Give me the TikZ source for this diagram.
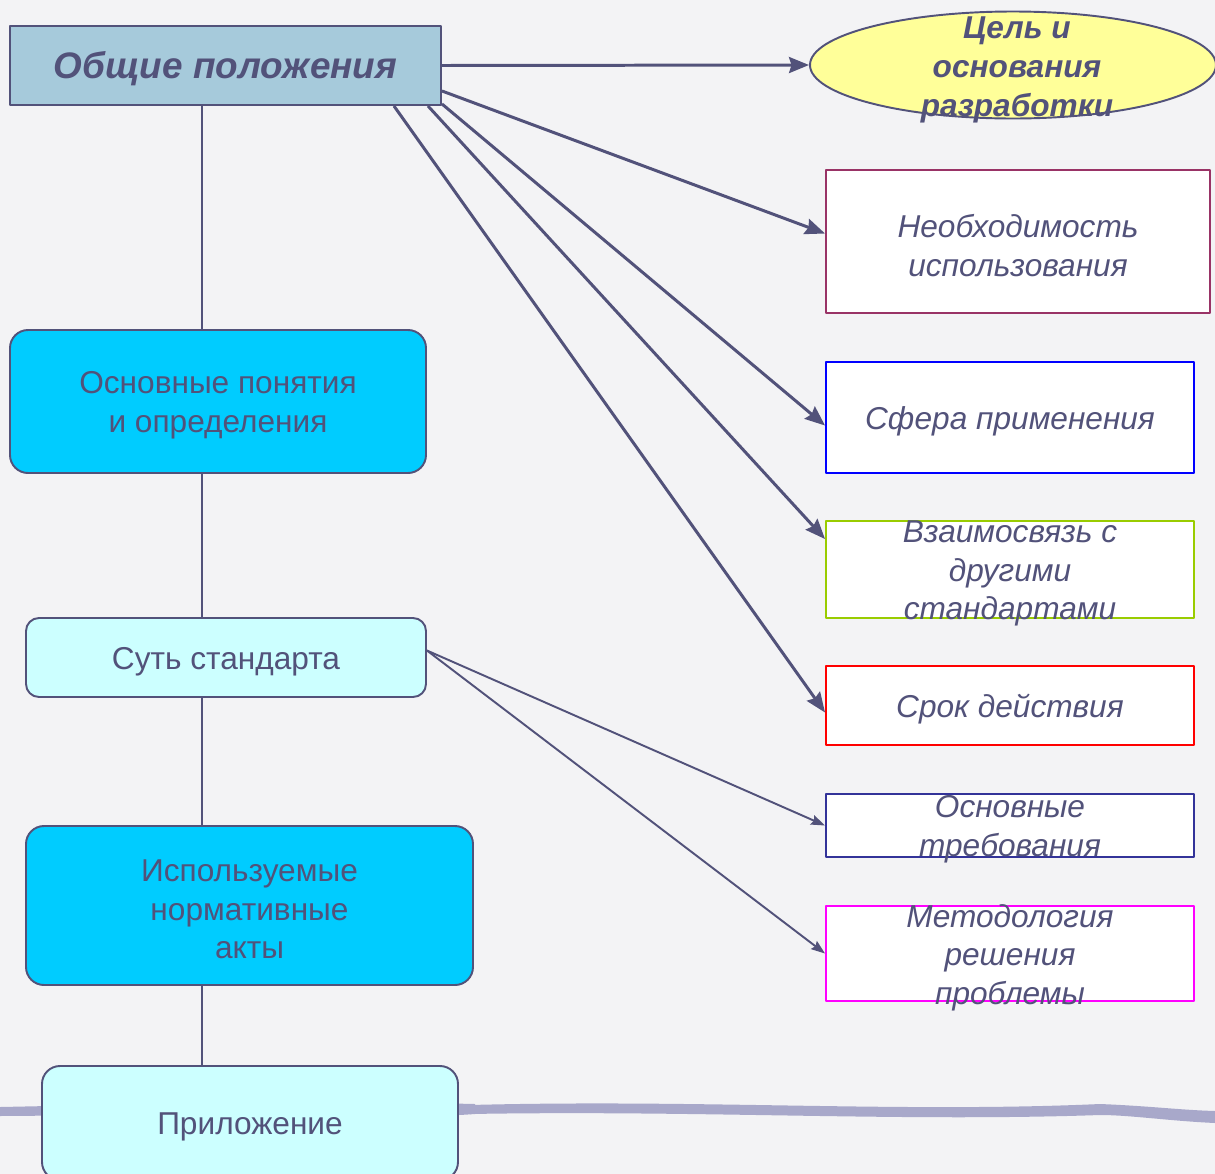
\documentclass[tikz,border=0pt]{standalone}
\usepackage{fontspec}
\setmainfont{Liberation Sans}
\usetikzlibrary{shapes.geometric,arrows.meta,calc}
\definecolor{ink}{RGB}{82,82,122}
\definecolor{bgc}{RGB}{243,243,245}
\definecolor{hdrc}{RGB}{166,202,219}
\definecolor{goalc}{RGB}{255,255,153}
\definecolor{cyanc}{RGB}{0,204,255}
\definecolor{palec}{RGB}{204,255,255}
\definecolor{needc}{RGB}{153,51,102}
\definecolor{scopec}{RGB}{0,0,255}
\definecolor{greenc}{RGB}{153,204,0}
\definecolor{termc}{RGB}{255,0,0}
\definecolor{reqc}{RGB}{51,51,153}
\definecolor{methc}{RGB}{255,0,255}
\definecolor{bandc}{RGB}{168,168,202}
\begin{document}
\begin{tikzpicture}[x=0.02cm,y=-0.02cm,line join=round,
	every node/.style={text=ink,align=center,inner sep=0pt},
	lbl/.style={font=\fontsize{18}{22}\selectfont,yshift=-0.08cm},
	itl/.style={font=\fontsize{18}{22}\selectfont\itshape,yshift=-0.08cm},
	bld/.style={font=\fontsize{18}{22}\selectfont\bfseries\itshape},
	side/.style={draw=#1,fill=white,line width=1.1pt},
	blk/.style={draw=ink,fill=#1,line width=1.1pt,rounded corners=0.36cm},
	conn/.style={draw=ink,line width=1.1pt},
	arr/.style={draw=ink,line width=1.7pt,-{Stealth[length=0.4cm,width=0.32cm,inset=0.05cm]}},
	tarr/.style={draw=ink,line width=1.1pt,-{Stealth[length=0.28cm,width=0.2cm,inset=0.04cm]}}]
	\useasboundingbox (0,0) rectangle (1215,1174);
	\clip (0,0) rectangle (1215,1174);
	\fill[bgc] (0,0) rectangle (1215,1174);
	% ribbon at the bottom
	\fill[bandc] (0,1107) .. controls (150,1104) and (300,1100) .. (475,1104)
		-- (475,1114) .. controls (380,1121) and (200,1114) .. (0,1116) -- cycle;
	\fill[bandc] (470,1105) .. controls (700,1099) and (900,1113) .. (1100,1104)
		.. controls (1150,1106) and (1180,1110) .. (1215,1111) -- (1215,1123)
		.. controls (1170,1121) and (1130,1115) .. (1100,1115)
		.. controls (900,1122) and (700,1110) .. (470,1114) -- cycle;
	% left column
	\node[draw=ink,fill=hdrc,line width=1.1pt,minimum width=431*0.02cm,minimum height=79*0.02cm] (gen) at (225.5,65.5) {};
	\node[font=\fontsize{21}{25}\selectfont\bfseries\itshape,yshift=-0.06cm] (gen-t) at (gen) {Общие положения};
	\node[blk=cyanc,minimum width=416*0.02cm,minimum height=143*0.02cm] (conc) at (218,401.5) {};
	\node[lbl] (conc-t) at (conc) {Основные понятия\\и определения};
	\node[blk=palec,minimum width=400*0.02cm,minimum height=79*0.02cm,rounded corners=0.26cm] (sut) at (226,657.5) {};
	\node[lbl] (sut-t) at (sut) {Суть стандарта};
	\node[blk=cyanc,minimum width=447*0.02cm,minimum height=159*0.02cm] (used) at (249.5,905.5) {};
	\node[lbl] (used-t) at (used) {Используемые\\нормативные\\акты};
	\node[blk=palec,minimum width=416*0.02cm,minimum height=114*0.02cm] (app) at (250,1123) {};
	\node[lbl] (app-t) at (app) {Приложение};
	\coordinate (ax) at (202,0);
	\draw[conn] (gen.south -| ax) -- (conc.north -| ax);
	\draw[conn] (conc.south -| ax) -- (sut.north -| ax);
	\draw[conn] (sut.south -| ax) -- (used.north -| ax);
	\draw[conn] (used.south -| ax) -- (app.north -| ax);
	% right column
	\node[ellipse,draw=ink,fill=goalc,line width=1.1pt,minimum width=406*0.02cm,minimum height=107*0.02cm] (goal) at (1013,65) {};
	\node[bld] (goal-t) at (1017,70) {Цель и\\основания\\разработки};
	\node[side=needc,minimum width=384*0.02cm,minimum height=143*0.02cm] (need) at (1018,241.5) {};
	\node[itl] (need-t) at (need) {Необходимость\\использования};
	\node[side=scopec,minimum width=368*0.02cm,minimum height=111*0.02cm] (scope) at (1010,417.5) {};
	\node[itl] (scope-t) at (scope) {Сфера применения};
	\node[side=greenc,minimum width=368*0.02cm,minimum height=97*0.02cm] (link) at (1010,569.5) {};
	\node[itl] (link-t) at (link) {Взаимосвязь с\\другими\\стандартами};
	\node[side=termc,minimum width=368*0.02cm,minimum height=79*0.02cm] (term) at (1010,705.5) {};
	\node[itl] (term-t) at (term) {Срок действия};
	\node[side=reqc,minimum width=368*0.02cm,minimum height=63*0.02cm] (req) at (1010,825.5) {};
	\node[itl] (req-t) at (req) {Основные\\требования};
	\node[side=methc,minimum width=368*0.02cm,minimum height=95*0.02cm] (meth) at (1010,953.5) {};
	\node[itl] (meth-t) at (meth) {Методология\\решения\\проблемы};
	% arrows
	\draw[arr] (gen.east) -- (goal.west);
	\draw[arr] ($(gen.south east)+(0,-15)$) -- ($(need.west)+(0,-8)$);
	\draw[arr] ($(gen.south east)+(0,-2)$) -- ($(scope.west)+(0,8)$);
	\draw[arr] ($(gen.south east)+(-14,0)$) -- ($(link.north west)+(0,19)$);
	\draw[arr] ($(gen.south east)+(-48,0)$) -- ($(term.west)+(0,7)$);
	\draw[tarr] ($(sut.east)+(0,-7)$) -- (req.west);
	\draw[tarr] ($(sut.east)+(0,-7)$) -- (meth.west);
\end{tikzpicture}
\end{document}
